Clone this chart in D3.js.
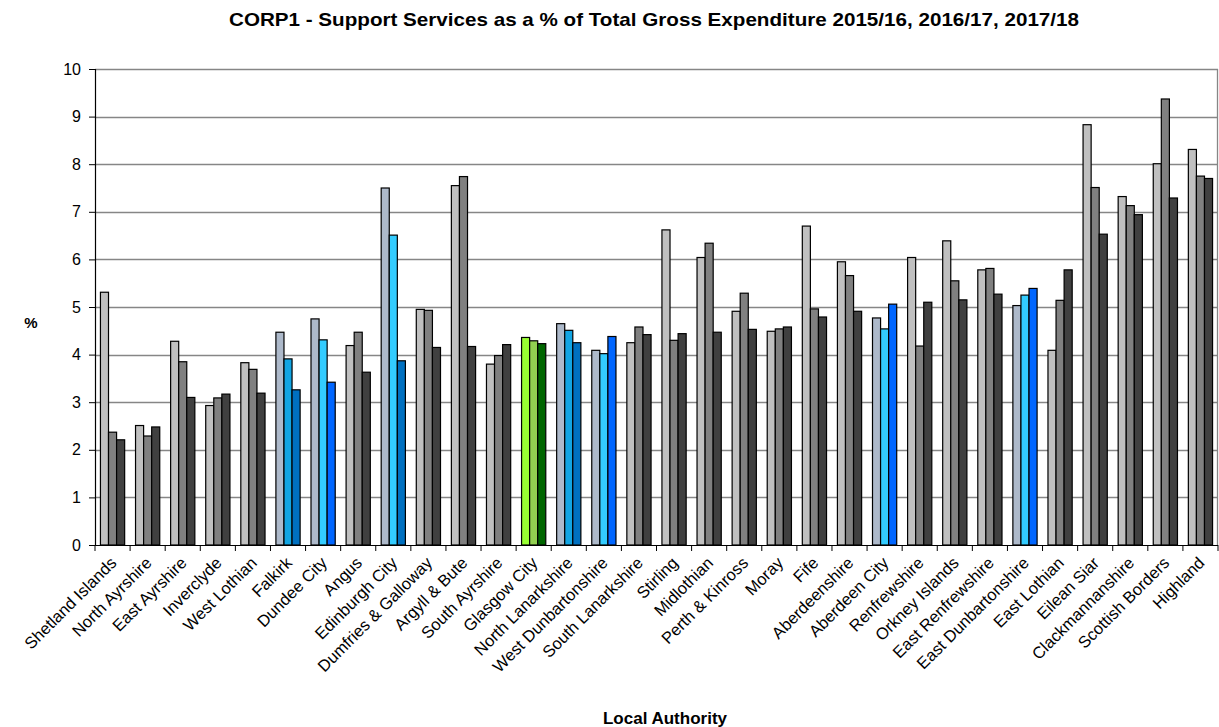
<!DOCTYPE html>
<html>
<head>
<meta charset="utf-8">
<script src="https://cdn.jsdelivr.net/npm/d3@7"></script>
<style>
  body { margin: 0; background: #fff; }
  text { font-family: Arial, "Liberation Sans", sans-serif; }
</style>
</head>
<body>
<svg id="chart"></svg>
<script>
var authorities = ["Shetland Islands", "North Ayrshire", "East Ayrshire", "Inverclyde", "West Lothian",
  "Falkirk", "Dundee City", "Angus", "Edinburgh City", "Dumfries & Galloway", "Argyll & Bute",
  "South Ayrshire", "Glasgow City", "North Lanarkshire", "West Dunbartonshire", "South Lanarkshire",
  "Stirling", "Midlothian", "Perth & Kinross", "Moray", "Fife", "Aberdeenshire", "Aberdeen City",
  "Renfrewshire", "Orkney Islands", "East Renfrewshire", "East Dunbartonshire", "East Lothian",
  "Eilean Siar", "Clackmannanshire", "Scottish Borders", "Highland"];

var years = ["2015/16", "2016/17", "2017/18"];

var y2015 = [5.31, 2.51, 4.28, 2.93, 3.83, 4.47, 4.75, 4.19, 7.50, 4.95, 7.55,
  3.80, 4.36, 4.65, 4.09, 4.25, 6.62, 6.04, 4.91, 4.49, 6.70, 5.95, 4.77,
  6.04, 6.39, 5.78, 5.03, 4.09, 8.83, 7.32, 8.01, 8.31];
var y2016 = [2.37, 2.29, 3.85, 3.09, 3.69, 3.91, 4.31, 4.47, 6.51, 4.93, 7.74,
  3.98, 4.29, 4.51, 4.02, 4.58, 4.30, 6.34, 5.29, 4.54, 4.96, 5.66, 4.54,
  4.18, 5.55, 5.81, 5.25, 5.14, 7.51, 7.13, 9.37, 7.75];
var y2017 = [2.21, 2.48, 3.10, 3.17, 3.19, 3.26, 3.42, 3.63, 3.87, 4.15, 4.17,
  4.21, 4.23, 4.25, 4.38, 4.42, 4.44, 4.47, 4.53, 4.58, 4.79, 4.91, 5.06,
  5.10, 5.15, 5.27, 5.39, 5.78, 6.53, 6.94, 7.29, 7.70];

var yTicks = [0, 1, 2, 3, 4, 5, 6, 7, 8, 9, 10];

// default greys, plus the highlighted authorities
var defaultColours = ["#c0c0c0", "#808080", "#404040"];
var highlightColours = {
  "Falkirk": ["#adb9ca", "#12a5e3", "#0070c0"],
  "Dundee City": ["#adb9ca", "#33ccff", "#0066ff"],
  "Edinburgh City": ["#adb9ca", "#33ccff", "#0070c0"],
  "Glasgow City": ["#99ff33", "#92d050", "#006600"],
  "North Lanarkshire": ["#adb9ca", "#12a5e3", "#0070c0"],
  "West Dunbartonshire": ["#adb9ca", "#33ccff", "#0066ff"],
  "Aberdeen City": ["#adb9ca", "#33ccff", "#0066ff"],
  "East Dunbartonshire": ["#adb9ca", "#33ccff", "#0066ff"]
};

var series = [y2015, y2016, y2017];

var W = 1219, H = 727;
var margin = { top: 69, right: 1, bottom: 182, left: 95 };
var width = W - margin.left - margin.right,
  height = H - margin.top - margin.bottom;

var svg = d3.select("#chart")
  .attr("width", W)
  .attr("height", H);

var g = svg.append("g")
  .attr("transform", "translate(" + margin.left + "," + margin.top + ")");

var x = d3.scaleBand().domain(authorities).range([0, width]).paddingInner(0.31).paddingOuter(0.155);
var xOuter = d3.scaleBand().domain(authorities).range([0, width]);
var xInner = d3.scaleBand().domain(years).range([0, x.bandwidth()]);
var y = d3.scaleLinear().domain([0, 10]).range([height, 0]);

// gridlines
g.append("g")
  .selectAll("line")
  .data(yTicks.filter(function (d) { return d > 0; }))
  .enter().append("line")
  .attr("x1", 0).attr("x2", width)
  .attr("y1", function (d) { return Math.round(y(d)) + 0.5; })
  .attr("y2", function (d) { return Math.round(y(d)) + 0.5; })
  .attr("stroke", "#868686")
  .attr("stroke-width", 1.3);

// right edge of plot area
g.append("line")
  .attr("x1", width - 0.5).attr("x2", width - 0.5)
  .attr("y1", y(10)).attr("y2", y(0))
  .attr("stroke", "#868686")
  .attr("stroke-width", 1.3);

// bars
var groups = g.append("g")
  .selectAll("g")
  .data(authorities)
  .enter().append("g")
  .attr("transform", function (d) { return "translate(" + x(d) + ",0)"; });

groups.selectAll("rect")
  .data(function (name, i) {
    var cols = highlightColours[name] || defaultColours;
    return years.map(function (yr, j) {
      return { year: yr, value: series[j][i], colour: cols[j] };
    });
  })
  .enter().append("rect")
  .attr("x", function (d) { return xInner(d.year); })
  .attr("y", function (d) { return y(d.value); })
  .attr("width", xInner.bandwidth())
  .attr("height", function (d) { return y(0) - y(d.value); })
  .attr("fill", function (d) { return d.colour; })
  .attr("stroke", "#000")
  .attr("stroke-width", 1.2);

// y axis
var yAxis = g.append("g")
  .call(d3.axisLeft(y).tickValues(yTicks).tickSize(6).tickPadding(8).tickFormat(d3.format("d")));
yAxis.select(".domain").attr("stroke", "#000").attr("stroke-width", 1.2);
yAxis.selectAll(".tick line").attr("stroke", "#000");
yAxis.selectAll("text").attr("font-size", 16).attr("fill", "#000");

// x axis: ticks between categories
var xAxisG = g.append("g").attr("transform", "translate(0," + height + ")");
xAxisG.append("line")
  .attr("x1", 0).attr("x2", width)
  .attr("y1", 0.5).attr("y2", 0.5)
  .attr("stroke", "#000").attr("stroke-width", 1.2);
xAxisG.selectAll(".xtick")
  .data(authorities.concat(["end"]))
  .enter().append("line")
  .attr("class", "xtick")
  .attr("x1", function (d, i) { return i < authorities.length ? xOuter(d) : width; })
  .attr("x2", function (d, i) { return i < authorities.length ? xOuter(d) : width; })
  .attr("y1", 0).attr("y2", 6)
  .attr("stroke", "#000");

xAxisG.selectAll(".xlabel")
  .data(authorities)
  .enter().append("text")
  .attr("class", "xlabel")
  .attr("transform", function (d) {
    return "translate(" + (xOuter(d) + xOuter.bandwidth() / 2 + 5) + ",19) rotate(-45)";
  })
  .attr("text-anchor", "end")
  .attr("font-size", 16.5)
  .attr("fill", "#000")
  .text(function (d) { return d; });

// titles
svg.append("text")
  .attr("x", 654).attr("y", 26)
  .attr("text-anchor", "middle")
  .attr("font-size", 19)
  .attr("font-weight", "bold")
  .attr("textLength", 850)
  .attr("lengthAdjust", "spacingAndGlyphs")
  .text("CORP1 - Support Services as a %  of Total Gross Expenditure 2015/16, 2016/17, 2017/18");

svg.append("text")
  .attr("x", 665).attr("y", 724)
  .attr("text-anchor", "middle")
  .attr("font-size", 17)
  .attr("font-weight", "bold")
  .text("Local Authority");

svg.append("text")
  .attr("x", 31).attr("y", 328)
  .attr("text-anchor", "middle")
  .attr("font-size", 15)
  .attr("font-weight", "bold")
  .text("%");
</script>
</body>
</html>
